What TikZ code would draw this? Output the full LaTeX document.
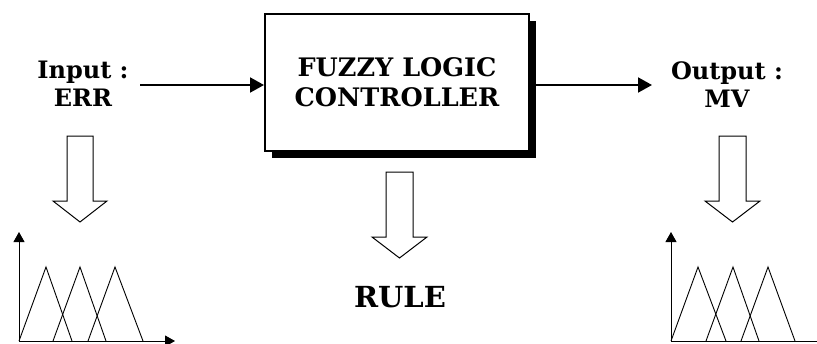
\documentclass[tikz,border=0pt]{standalone}
\usepackage{fontspec}
\setmainfont{DejaVu Serif}
\usetikzlibrary{arrows.meta,shadows}
\begin{document}
\begin{tikzpicture}[x=1pt,y=-1pt,
  lbl/.style={font=\bfseries\fontsize{24}{28}\selectfont, align=center, inner sep=0pt},
  fzlbox/.style={draw, line width=2pt, fill=white, minimum width=264pt, minimum height=137pt,
    align=center, font=\bfseries\fontsize{25.5}{30}\selectfont, inner sep=0pt,
    drop shadow={shadow xshift=7pt, shadow yshift=-7pt, fill=black, opacity=1}},
  rulelbl/.style={font=\bfseries\fontsize{29}{34}\selectfont, inner sep=0pt},
  flow/.style={line width=2pt, -{Triangle[length=14pt,width=15pt]}},
  hollow/.style={draw, line width=1pt, fill=white, line join=miter},
  tip/.style={Triangle[length=10pt,width=11pt]},
  axis/.style={line width=1pt, {Triangle[length=10pt,width=11pt]}-{Triangle[length=10pt,width=11pt]}},
  mf/.style={line width=0.9pt, line join=miter}
]
\useasboundingbox (0,0) rectangle (817,343);
\fill[white] (0,0) rectangle (817,343);

% main block
\node[fzlbox] (fzl) at (397,82.5) {FUZZY LOGIC\\CONTROLLER};
\node[lbl] (in) at (83,84) {Input :\\ERR};
\node[lbl] (out) at (727,85) {Output :\\MV};
\node[rulelbl] (rule) at (400,297) {RULE};

\coordinate (inStart) at (140,85);
\coordinate (outEnd) at (652,85);
\draw[flow] (inStart) -- (fzl.west |- inStart);
\draw[flow] (fzl.east |- outEnd) -- (outEnd);

% hollow arrows
\draw[hollow] (67,136)--(93,136)--(93,201)--(107,201)--(80,222)--(53,201)--(67,201)--cycle;
\draw[hollow] (386,172)--(413,172)--(413,237)--(427,237)--(399.5,258)--(372,237)--(386,237)--cycle;
\draw[hollow] (719,136)--(746,136)--(746,201)--(760,201)--(732.5,222)--(705,201)--(719,201)--cycle;

% left membership plot
\draw[axis] (19,232) -- (19,341) -- (175,341);
\draw[mf] (19,341)--(46,267)--(72,341);
\draw[mf] (53,341)--(80,267)--(106,341);
\draw[mf] (88,341)--(115,267)--(143,341);

% right membership plot
\draw[line width=1pt, {Triangle[length=10pt,width=11pt]}-] (671,232) -- (671,341) -- (817,341);
\draw[mf] (671,341)--(698,267)--(726,341);
\draw[mf] (706,341)--(733,267)--(759,341);
\draw[mf] (741,341)--(768,267)--(795,341);
\end{tikzpicture}
\end{document}
